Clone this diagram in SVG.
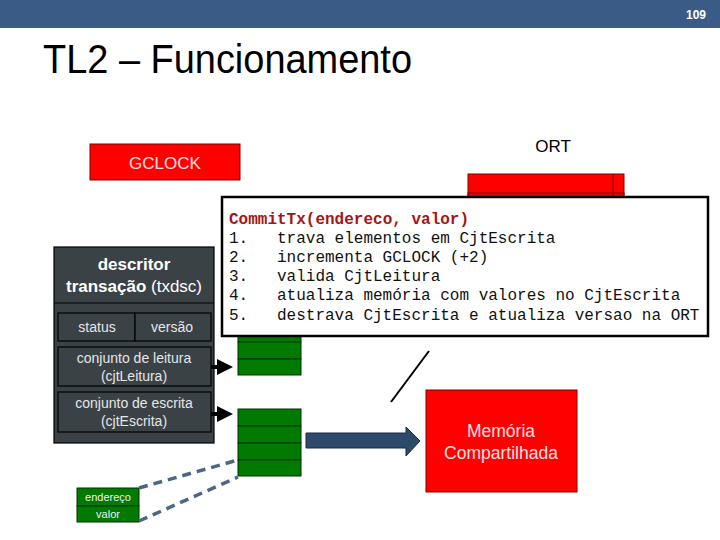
<svg xmlns="http://www.w3.org/2000/svg" width="720" height="540" viewBox="0 0 720 540">
<defs>
<style>
.sans{font-family:"Liberation Sans",Arial,sans-serif}
.mono{font-family:"Liberation Mono","Courier New",monospace;font-size:16px;fill:#111}
.dk{fill:#3a4246;stroke:#000;stroke-width:1.2}
.dtxt{font-family:"Liberation Sans",Arial,sans-serif;fill:#e6e6e6;font-size:14px;text-anchor:middle}
.grn{fill:#007a00;stroke:#003300;stroke-width:1}
.red{fill:#ff0000;stroke:#800000;stroke-width:1}
.conn{stroke:#000;stroke-width:4;fill:none}
.dash{stroke:#4d6782;stroke-width:3.5;stroke-dasharray:9,6;fill:none}
</style>
<marker id="ah" markerWidth="4" markerHeight="4" refX="3" refY="2" orient="auto" markerUnits="strokeWidth">
<path d="M0,0 L4,2 L0,4 z" fill="#000"/>
</marker>
</defs>
<rect width="720" height="540" fill="#fff"/>
<g id="header">
<rect x="0" y="0" width="720" height="28" fill="#3b5b87"/>
<text x="706" y="19" class="sans" font-size="12" font-weight="bold" fill="#fff" text-anchor="end">109</text>
</g>
<text id="title" x="43" y="73" class="sans" font-size="40" fill="#000" textLength="369" lengthAdjust="spacingAndGlyphs">TL2 – Funcionamento</text>

<g id="gclock">
<rect x="90" y="144" width="150" height="36" class="red"/>
<text x="165" y="169" class="sans" font-size="17" fill="#ffe0e0" text-anchor="middle">GCLOCK</text>
</g>

<g id="ort">
<text x="553" y="152" class="sans" font-size="17" fill="#000" text-anchor="middle">ORT</text>
<rect x="468" y="174" width="156" height="24" fill="#ff0000" stroke="#800000"/>
<rect x="468" y="193" width="156" height="5" fill="#d41010" stroke="#800000"/>
<line x1="613" y1="174" x2="613" y2="198" stroke="#800000"/>
</g>

<g id="txdsc">
<rect x="54" y="247" width="160" height="196" class="dk"/>
<line x1="54" y1="303" x2="214" y2="303" stroke="#000" stroke-width="1.2"/>
<text x="134" y="270" class="sans" font-size="17" font-weight="bold" fill="#fff" text-anchor="middle">descritor</text>
<text x="134" y="292" class="sans" font-size="17" fill="#fff" text-anchor="middle"><tspan font-weight="bold">transação</tspan> (txdsc)</text>
<rect x="58" y="313" width="77" height="28" class="dk"/>
<rect x="135" y="313" width="76" height="28" class="dk"/>
<text x="97" y="332" class="dtxt">status</text>
<text x="172" y="332" class="dtxt">versão</text>
<rect x="58" y="347" width="153" height="39" class="dk"/>
<text x="134" y="363" class="dtxt">conjunto de leitura</text>
<text x="134" y="381" class="dtxt">(cjtLeitura)</text>
<rect x="58" y="392" width="153" height="40" class="dk"/>
<text x="134" y="408" class="dtxt">conjunto de escrita</text>
<text x="134" y="426" class="dtxt">(cjtEscrita)</text>
</g>

<g id="leitura-array">
<rect x="238" y="290" width="63" height="17" class="grn"/>
<rect x="238" y="307" width="63" height="17" class="grn"/>
<rect x="238" y="324" width="63" height="18" class="grn"/>
<rect x="238" y="342" width="63" height="17" class="grn"/>
<rect x="238" y="359" width="63" height="16" class="grn"/>
</g>

<g id="escrita-array">
<rect x="238" y="409" width="63" height="17" class="grn"/>
<rect x="238" y="426" width="63" height="17" class="grn"/>
<rect x="238" y="443" width="63" height="17" class="grn"/>
<rect x="238" y="460" width="63" height="16" class="grn"/>
</g>

<g id="entry">
<rect x="77" y="488" width="62" height="18" class="grn"/>
<rect x="77" y="506" width="62" height="16" class="grn"/>
<text x="108" y="501" class="sans" font-size="11" fill="#f0f0f0" text-anchor="middle">endereço</text>
<text x="108" y="518" class="sans" font-size="11" fill="#f0f0f0" text-anchor="middle">valor</text>
</g>

<g id="memoria">
<rect x="426" y="390" width="151" height="102" class="red"/>
<text x="501" y="437" class="sans" font-size="17.5" fill="#ffe0e0" text-anchor="middle">Memória</text>
<text x="501" y="459" class="sans" font-size="17.5" fill="#ffe0e0" text-anchor="middle">Compartilhada</text>
</g>

<g id="commit">
<rect x="222" y="197" width="486" height="139" fill="#fff" stroke="#000" stroke-width="2.5"/>
<text x="229" y="224" class="mono" font-weight="bold" fill="#a51515" style="fill:#a51515">CommitTx(endereco, valor)</text>
<text class="mono" y="243"><tspan x="229">1.</tspan><tspan x="277">trava elementos em CjtEscrita</tspan></text>
<text class="mono" y="262"><tspan x="229">2.</tspan><tspan x="277">incrementa GCLOCK (+2)</tspan></text>
<text class="mono" y="281"><tspan x="229">3.</tspan><tspan x="277">valida CjtLeitura</tspan></text>
<text class="mono" y="300"><tspan x="229">4.</tspan><tspan x="277">atualiza memória com valores no CjtEscrita</tspan></text>
<text class="mono" y="320"><tspan x="229">5.</tspan><tspan x="277">destrava CjtEscrita e atualiza versao na ORT</tspan></text>
</g>

<g id="connectors">
<line x1="211" y1="367" x2="229" y2="367" class="conn" marker-end="url(#ah)"/>
<line x1="211" y1="414" x2="229" y2="414" class="conn" marker-end="url(#ah)"/>
<line x1="429" y1="351" x2="391" y2="402" stroke="#000" stroke-width="2"/>
<line x1="139" y1="488" x2="238" y2="460" class="dash"/>
<line x1="139" y1="521" x2="238" y2="477" class="dash"/>
<path d="M306,433 L406,433 L406,427 L420,441 L406,456 L406,448 L306,448 Z" fill="#2d4a6d" stroke="#1a2a40" stroke-width="1"/>
</g>
</svg>
